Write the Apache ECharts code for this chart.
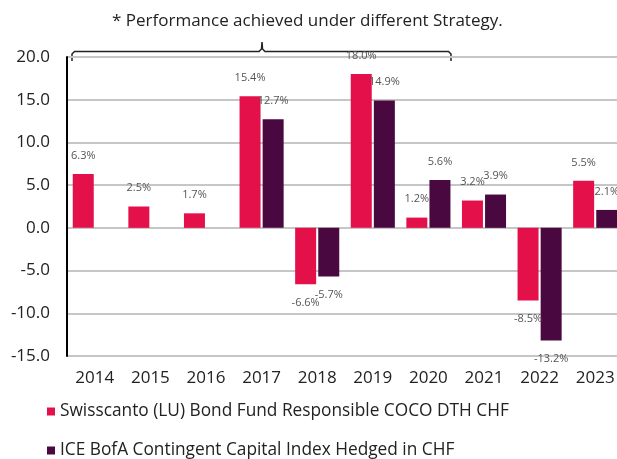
<!DOCTYPE html>
<html><head><meta charset="utf-8">
<script src="https://cdn.jsdelivr.net/npm/echarts@6/dist/echarts.min.js"></script>
<style>html,body{margin:0;padding:0;background:#fff;overflow:hidden}#c{width:630px;height:459px}</style>
</head><body><div id="c"></div>
<script>
const years = ['2014','2015','2016','2017','2018','2019','2020','2021','2022','2023'];
const fundName = 'Swisscanto (LU) Bond Fund Responsible COCO DTH CHF';
const indexName = 'ICE BofA Contingent Capital Index Hedged in CHF';
const fundValues = [6.3, 2.5, 1.7, 15.4, -6.6, 18.0, 1.2, 3.2, -8.5, 5.5];
const indexValues = [null, null, null, 12.7, -5.7, 14.9, 5.6, 3.9, -13.2, 2.1];
const yTicks = {min: -15, max: 20, interval: 5};
const noteText = '* Performance achieved under different Strategy.';

const FONT = 'Open Sans';
const chart = echarts.init(document.getElementById('c'), null, {renderer: 'canvas'});

function toData(arr) {
  return arr.map(v => v == null ? null : {
    value: v,
    label: {position: v < 0 ? 'bottom' : 'top'}
  });
}
const labelCfg = {
  show: true, distance: 13, fontSize: 11, fontFamily: FONT, color: '#555',
  formatter: p => p.value.toFixed(1) + '%'
};

chart.setOption({
  animation: false,
  textStyle: {fontFamily: FONT},
  title: {
    text: noteText, left: 107, top: 8,
    textStyle: {fontSize: 17, fontWeight: 'normal', color: '#222', fontFamily: FONT}
  },
  grid: {left: 67, top: 57, width: 556, height: 299, containLabel: false},
  legend: {
    orient: 'vertical', left: 47, top: 403, padding: 0, height: 60,
    itemWidth: 8, itemHeight: 8, itemGap: 22,
    icon: 'rect',
    textStyle: {fontSize: 17.3, color: '#222', fontFamily: FONT},
    data: [fundName, indexName]
  },
  xAxis: {
    type: 'category', data: years,
    axisLine: {show: false}, axisTick: {show: false},
    axisLabel: {fontSize: 17, color: '#222', margin: 14, fontFamily: FONT}
  },
  yAxis: {
    type: 'value', min: yTicks.min, max: yTicks.max, interval: yTicks.interval,
    axisLine: {show: true, lineStyle: {color: '#000', width: 2}},
    axisTick: {show: false},
    axisLabel: {fontSize: 17, color: '#222', margin: 17, fontFamily: FONT, formatter: v => v.toFixed(1)},
    splitLine: {lineStyle: {color: '#c6c6c6', width: 2}}
  },
  series: [
    {name: fundName, type: 'bar', data: toData(fundValues), barWidth: 21, barGap: '10%',
     itemStyle: {color: '#E3104A'}, label: labelCfg},
    {name: indexName, type: 'bar', data: toData(indexValues), barWidth: 21,
     itemStyle: {color: '#4A0840'}, label: labelCfg}
  ],
  graphic: [{
    type: 'polyline',
    shape: {points: [[72,61],[72,54],[74.5,51.5],[259,51.5],[261.5,49],[262,42],[262.5,49],[265,51.5],[448.5,51.5],[451,54],[451,61]]},
    style: {stroke: '#222', lineWidth: 1.5, fill: null}
  }]
});
</script></body></html>
